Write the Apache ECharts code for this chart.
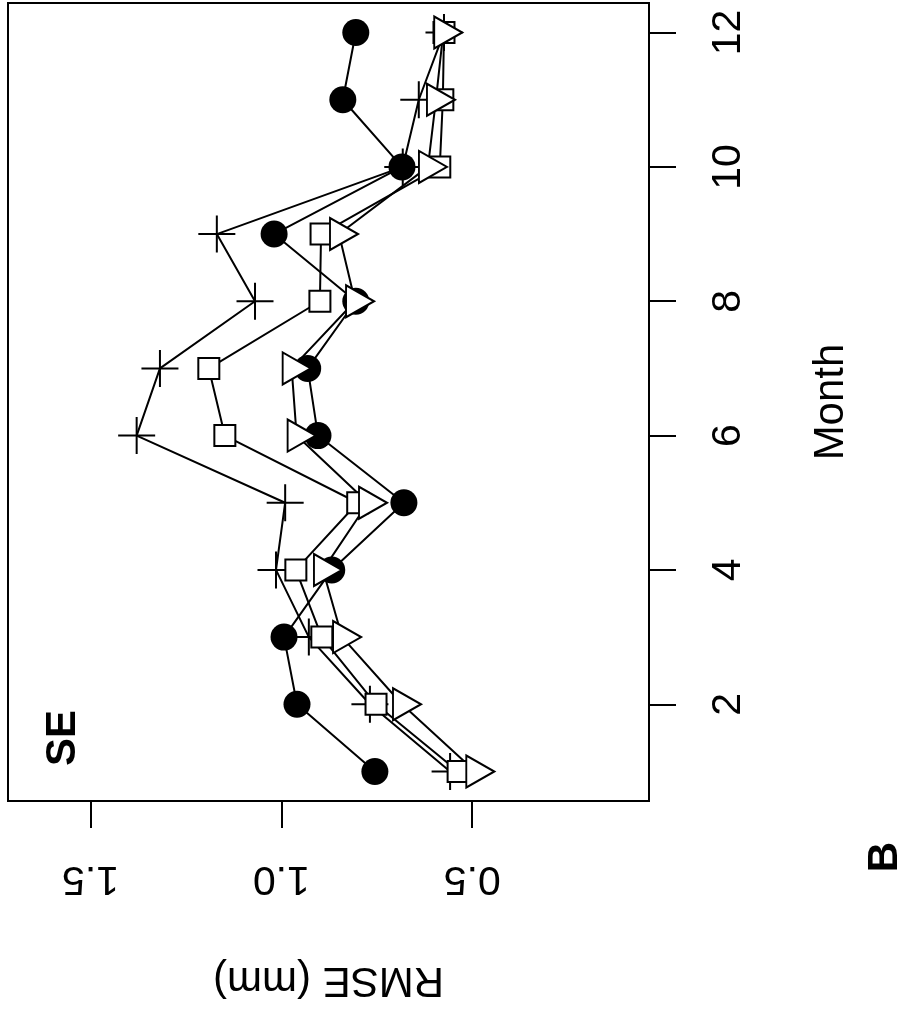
<!DOCTYPE html>
<html><head><meta charset="utf-8">
<script src="https://cdn.jsdelivr.net/npm/echarts@6/dist/echarts.min.js"></script>
<style>html,body{margin:0;padding:0;background:#fff}#c{width:909px;height:1011px}</style>
</head><body><div id="c"></div>
<script>
const months = [1,2,3,4,5,6,7,8,9,10,11,12];
const circleRMSE   = [0.755,0.959,0.993,0.868,0.679,0.904,0.931,0.805,1.019,0.684,0.839,0.805];
const plusRMSE     = [0.558,0.768,0.928,1.014,0.990,1.379,1.318,1.069,1.169,0.682,0.640,0.574];
const squareRMSE   = [0.537,0.752,0.894,0.962,0.800,1.148,1.190,0.899,0.896,0.585,0.577,0.574];
const triangleRMSE = [0.492,0.684,0.841,0.891,0.773,0.960,0.973,0.807,0.849,0.616,0.595,0.576];
const monthTicks = [2,4,6,8,10,12];
const rmseTicks = [0.5,1.0,1.5];
const panelLabel = 'SE';
const figLabel = 'B';

const FONT = 'Liberation Sans, Arial, Helvetica, sans-serif';
const pairs = vals => vals.map((v,i)=>[v, months[i]]);
const base = {type:'line', lineStyle:{color:'#000', width:2}, emphasis:{disabled:true}};

const chart = echarts.init(document.getElementById('c'), null, {renderer:'canvas'});
chart.setOption({
  animation:false,
  backgroundColor:'#fff',
  grid:{left:8, right:260, top:3, bottom:210, show:true, borderColor:'#000', borderWidth:2, backgroundColor:'transparent'},
  xAxis:{
    type:'value', inverse:true, min:0.037, max:1.716, position:'bottom',
    splitLine:{show:false}, axisLine:{show:false},
    axisTick:{show:true, customValues:rmseTicks, length:27, lineStyle:{color:'#000', width:2}},
    axisLabel:{customValues:rmseTicks, rotate:180, margin:57, fontSize:41, color:'#000', fontFamily:FONT,
      formatter:v=>Number(v).toFixed(1)},
    name:'RMSE (mm)', nameLocation:'middle', nameRotate:180, nameGap:158,
    nameTextStyle:{fontSize:42, color:'#000', fontFamily:FONT}
  },
  yAxis:{
    type:'value', min:0.56, max:12.44, position:'right',
    splitLine:{show:false}, axisLine:{show:false},
    axisTick:{show:true, customValues:monthTicks, length:27, lineStyle:{color:'#000', width:2}},
    axisLabel:{customValues:monthTicks, rotate:90, margin:59, fontSize:41, color:'#000', fontFamily:FONT},
    name:'Month', nameLocation:'middle', nameRotate:90, nameGap:161,
    nameTextStyle:{fontSize:42, color:'#000', fontFamily:FONT}
  },
  graphic:[
    {type:'text', x:63, y:738, rotation:Math.PI/2,
     style:{text:panelLabel, font:'bold 42px '+FONT, fill:'#000', textAlign:'center', textVerticalAlign:'middle'}},
    {type:'text', x:885, y:857, rotation:Math.PI/2,
     style:{text:figLabel, font:'bold 42px '+FONT, fill:'#000', textAlign:'center', textVerticalAlign:'middle'}}
  ],
  series:[
    Object.assign({}, base, {name:'plus', data:pairs(plusRMSE),
      symbol:'path://M10,0L10,20M0,10L20,10', symbolSize:37, symbolKeepAspect:true,
      itemStyle:{color:'#000', borderColor:'#000', borderWidth:2}}),
    Object.assign({}, base, {name:'circle', data:pairs(circleRMSE),
      symbol:'circle', symbolSize:27, itemStyle:{color:'#000', borderColor:'#000', borderWidth:0}}),
    Object.assign({}, base, {name:'square', data:pairs(squareRMSE),
      symbol:'rect', symbolSize:21, itemStyle:{color:'#fff', borderColor:'#000', borderWidth:2}}),
    Object.assign({}, base, {name:'triangle', data:pairs(triangleRMSE),
      symbol:'triangle', symbolSize:[32,28], symbolRotate:-90, symbolOffset:[5,0],
      itemStyle:{color:'#fff', borderColor:'#000', borderWidth:2}})
  ]
});
</script></body></html>
